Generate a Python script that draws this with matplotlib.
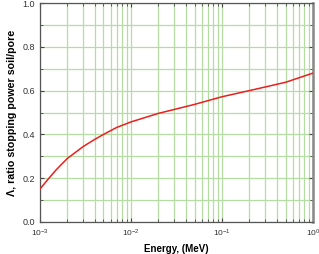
import matplotlib
matplotlib.use("Agg")
import matplotlib.pyplot as plt
from matplotlib.ticker import LogLocator, MultipleLocator, FixedLocator, FixedFormatter, FormatStrFormatter
import numpy as np

plt.rcParams["font.family"] = ["Liberation Sans", "DejaVu Sans"]
plt.rcParams["mathtext.fontset"] = "custom"
plt.rcParams["mathtext.rm"] = "Liberation Sans"
plt.rcParams["mathtext.it"] = "Liberation Sans:italic"

# Energy (MeV) and ratio of stopping powers soil/pore
energy = [1e-3, 1.2e-3, 1.5e-3, 2e-3, 3e-3, 4e-3, 5e-3, 7e-3, 1e-2,
          2e-2, 3e-2, 5e-2, 1e-1, 2e-1, 5e-1, 1.0]
ratio = [0.15, 0.19, 0.237, 0.29, 0.345, 0.377, 0.40, 0.432, 0.457,
         0.496, 0.514, 0.537, 0.572, 0.60, 0.638, 0.68]
x_ticks = [1e-3, 1e-2, 1e-1, 1]
x_ticklabels = [r"$10^{-3}$", r"$10^{-2}$", r"$10^{-1}$", r"$10^{0}$"]

grid_color = "#b5dda3"

fig = plt.figure(figsize=(3.19, 2.54), dpi=100)
ax = fig.add_axes([0.125, 0.126, 0.856, 0.862])

ax.plot(energy, ratio, color="#e8201e", lw=1.1, zorder=3)

ax.set_xscale("log")
ax.set_xlim(1e-3, 1)
ax.set_ylim(0, 1)
ax.xaxis.set_major_locator(FixedLocator(x_ticks))
ax.xaxis.set_major_formatter(FixedFormatter(x_ticklabels))
ax.xaxis.set_minor_locator(LogLocator(base=10, subs=np.arange(2, 10)))
ax.xaxis.set_minor_formatter(FixedFormatter([]))
ax.yaxis.set_major_locator(MultipleLocator(0.2))
ax.yaxis.set_major_formatter(FormatStrFormatter("%.1f"))
ax.yaxis.set_minor_locator(MultipleLocator(0.1))

ax.grid(which="both", color=grid_color, lw=0.9, zorder=0)
ax.tick_params(which="both", direction="in", top=True, right=True,
               colors="#444444", labelcolor="#333333", labelsize=6.5)
ax.tick_params(which="major", length=3, width=0.8)
ax.tick_params(which="minor", length=2, width=0.6)
ax.tick_params(axis="x", pad=4, labelsize=6)

for side in ["left", "bottom", "top"]:
    ax.spines[side].set_color("#555555")
    ax.spines[side].set_linewidth(0.9)
ax.spines["right"].set_color("#888888")
ax.spines["right"].set_linewidth(1.8)

ax.set_xlabel("Energy, (MeV)", fontsize=7, fontweight="bold", labelpad=4)
ax.set_ylabel("Λ, ratio stopping power soil/pore", fontsize=7.7,
              fontweight="bold", labelpad=4)

fig.savefig("out.png", dpi=100)
